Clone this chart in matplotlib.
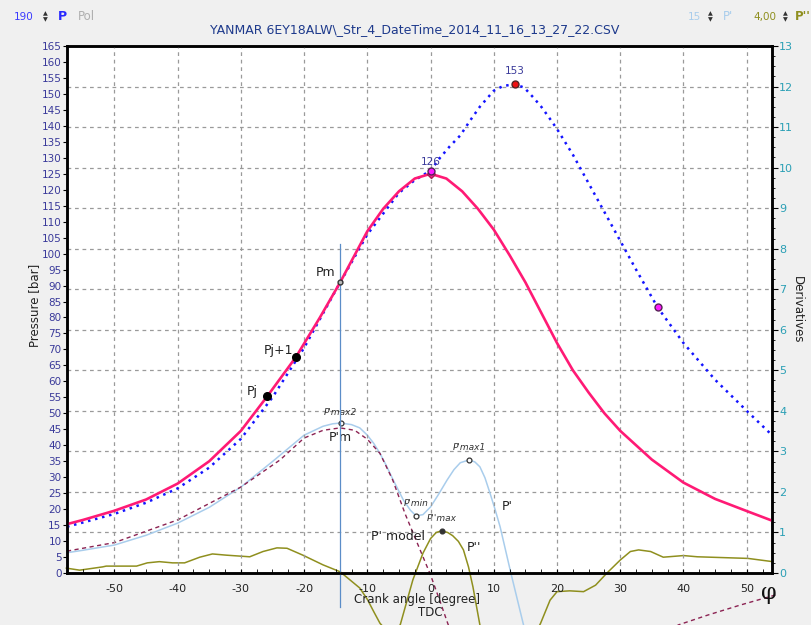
import numpy as np
import matplotlib.pyplot as plt
from matplotlib.ticker import MultipleLocator

# measured cylinder pressure [bar] (blue dotted)
ang_meas = [-57.5, -55, -50, -45, -40, -35, -30, -25, -20, -15, -10, -5, -2.5, 0,
            1.5, 3, 4.7, 6.2, 7.8, 10, 11.5, 13.3, 14.8, 16.2, 17.5, 18.6, 20, 22.5,
            25, 27.5, 30, 32.5, 35.9, 40, 45, 50.2, 54.3]
p_meas = [14.5, 15.8, 18.5, 22, 26.5, 33, 42, 55, 70.5, 88.5, 106, 119, 123, 126,
          130, 133.5, 137, 141.5, 146, 151, 152.5, 153, 152, 149, 146, 143, 139, 131,
          122, 113, 104, 95, 83.2, 72, 60.5, 50.4, 42.6]

# pressure model [bar] (pink)
ang_mod = [-57.5, -55, -50, -45, -40, -35, -30, -25.8, -21.3, -17.5, -14.3, -10, -7.5,
           -5, -2.5, 0, 2.5, 5, 7.5, 10, 12.5, 15, 17.5, 20, 22.5, 25, 27.5, 30, 35,
           40, 45, 50, 54]
p_mod = [15.3, 16.6, 19.5, 23, 28, 35, 44.5, 55.4, 67.6, 80, 91, 107, 114, 119.5, 123.5,
         125, 123.5, 119.5, 114, 107.5, 99.5, 91, 81.5, 72, 63.5, 56.5, 50, 44.5, 35.5,
         28.3, 23.2, 19.4, 16.4]

# first derivative P' (light blue), right axis
ang_d1 = [-57.5, -55, -50, -45, -40, -35, -30, -25, -20, -17, -15.5, -14.2, -12.5,
          -11.2, -10, -9, -8, -7, -5.9, -4.3, -3.2, -2.3, -1.2, 0, 1.3, 2.6, 3.7, 4.7,
          6.1, 7, 7.8, 8.6, 9.4, 10.2, 11, 12.7, 14.7, 17]
d1 = [0.50, 0.56, 0.69, 0.93, 1.23, 1.62, 2.12, 2.75, 3.40, 3.62, 3.68, 3.70, 3.66,
      3.58, 3.40, 3.20, 2.95, 2.65, 2.29, 1.80, 1.55, 1.41, 1.44, 1.63, 1.95, 2.29, 2.55,
      2.72, 2.79, 2.74, 2.62, 2.35, 1.97, 1.57, 1.14, 0.0, -1.28, -2.4]

# P' model (dashed)
ang_d1m = [-57.5, -50, -40, -30, -23.8, -20, -17, -14.3, -12, -10, -8, -6, -4, -2, 0, 1.5,
           2.8, 5, 10, 20, 30, 39.2, 43.8, 49, 54.6]
d1m = [0.54, 0.75, 1.31, 2.12, 2.79, 3.33, 3.52, 3.58, 3.52, 3.30, 2.95, 2.30, 1.45, 0.70,
       -0.05, -0.70, -1.28, -2.0, -2.6, -2.8, -2.2, -1.28, -1.04, -0.79, -0.54]

# second derivative P'' (olive)
ang_d2 = [-57.6, -55.5, -51.9, -51.3, -46.5, -44.8, -42.9, -40.8, -38.9, -36.5, -34.5,
          -32.3, -28.6, -26.5, -24.3, -22.7, -20.2, -17.0, -14.3, -11.2, -10, -9, -8,
          -6.5, -4.8, -2.8, -1.2, 0, 0.9, 1.77, 2.7, 3.5, 4.4, 5.2, 6.0, 6.7, 7.8, 10,
          12.5, 15, 17.4, 18.9, 20, 22, 24.2, 26.1, 27.9, 30, 31.6, 32.9, 34.8, 36.8,
          40, 42.2, 50.2, 54.1]
d2 = [0.12, 0.07, 0.15, 0.17, 0.17, 0.25, 0.28, 0.25, 0.25, 0.39, 0.47,
      0.44, 0.40, 0.53, 0.62, 0.61, 0.44, 0.20, 0.03, -0.37, -0.65, -0.95, -1.24,
      -1.5, -1.28, -0.17, 0.49, 0.85, 1.0, 1.04, 1.0, 0.92, 0.78, 0.57, 0.15, -0.34, -1.28,
      -2.2, -2.5, -2.0, -1.24, -0.67, -0.46, -0.44, -0.46, -0.30, 0.0, 0.32, 0.53, 0.57,
      0.53, 0.39, 0.43, 0.40, 0.36, 0.28]

# characteristic points
pj = (-25.8, 55.4)
pj1 = (-21.3, 67.6)
pm = (-14.3, 91.0)
pmax_meas = (13.3, 153)
p_tdc_meas = (0.0, 126)
p_tdc_mod = (0.0, 125)
p_late = (35.9, 83.2)
d1max2 = (-14.2, 3.70)
d1min = (-2.3, 1.41)
d1max1 = (6.1, 2.79)
d2max = (1.77, 1.04)

title = "YANMAR 6EY18ALW\\_Str_4_DateTime_2014_11_16_13_27_22.CSV"

plt.rcParams['font.family'] = 'DejaVu Sans'
plt.rcParams['axes.unicode_minus'] = False

fig = plt.figure(figsize=(8.12, 6.25), dpi=100, facecolor='#f0f0f0')
W, H = 812, 625
ax = fig.add_axes([67 / W, 1 - 573 / H, (772 - 67) / W, (573 - 46) / H])
ax2 = ax.twinx()
ax.set_zorder(ax2.get_zorder() + 1)
ax.patch.set_visible(False)
ax2.patch.set_visible(True)
ax2.patch.set_facecolor('white')

ax.set_xlim(-57.5, 54)
ax.set_ylim(0, 165)
ax2.set_ylim(0, 13)

grid_kw = dict(color='#9a9a9a', linestyle=(0, (3, 3)), linewidth=0.9)
ax.xaxis.grid(True, **grid_kw)
ax2.yaxis.grid(True, **grid_kw)
ax.set_axisbelow(True)

ax.xaxis.set_major_locator(MultipleLocator(10))
ax.xaxis.set_minor_locator(MultipleLocator(2.5))
ax.yaxis.set_major_locator(MultipleLocator(5))
ax2.yaxis.set_major_locator(MultipleLocator(1))
ax2.yaxis.set_minor_locator(MultipleLocator(0.25))

ax.tick_params(axis='x', which='both', direction='in', length=3, labelsize=8,
               pad=8, labelcolor='#222222')
ax.tick_params(axis='y', direction='out', length=3, labelsize=7.5, pad=1,
               labelcolor='#3a3a9a')
ax2.tick_params(axis='y', which='major', direction='out', length=4, labelsize=8,
                pad=1, labelcolor='#2a9fb5')
ax2.tick_params(axis='y', which='minor', direction='out', length=2)
for a in (ax, ax2):
    for s in a.spines.values():
        s.set_linewidth(1.8)
        s.set_color('black')

# derivatives (right axis), not clipped like in the original software
ax2.plot(ang_d1, d1, color='#a9cdec', lw=1.1, clip_on=False)
ax2.plot(ang_d1m, d1m, color='#8b2252', lw=1.0, linestyle=(0, (3, 2.5)), clip_on=False)
ax2.plot(ang_d2, d2, color='#8f8f1e', lw=1.1, clip_on=False)

# vertical line at P'max2
ax.plot([pm[0], pm[0]], [-10.5, 103], color='#5b8dc8', lw=0.9, clip_on=False)

# pressure curves (left axis)
ax.plot(ang_meas, p_meas, color='#1414ff', lw=1.8, linestyle=(0, (1, 1.9)))
ax.plot(ang_mod, p_mod, color='#ff1a75', lw=1.9)

# markers
ax.plot(*pj, 'o', color='black', ms=5.5)
ax.plot(*pj1, 'o', color='black', ms=5.5)
ax.plot(*pm, 'o', mfc='#bbbbbb', mec='#333333', ms=3.5)
ax.plot(*p_tdc_mod, 'D', mfc='#ff1a9a', mec='#aa2255', ms=4)
ax.plot(*p_tdc_meas, 'o', mfc='#ff1aff', mec='#552255', ms=5)
ax.plot(*pmax_meas, 'o', mfc='#ee1111', mec='#552222', ms=5)
ax.plot(*p_late, 'o', mfc='#ff1aff', mec='#552255', ms=5)
for pt, fc in ((d1max2, 'white'), (d1min, 'white'), (d1max1, 'white'), (d2max, '#333333')):
    ax2.plot(*pt, 'o', mfc=fc, mec='#333333', ms=3.5, mew=0.9)

lbl = dict(textcoords='offset pixels', ha='center', va='center')
ax.annotate('Pj', pj, xytext=(-15, 5), fontsize=9, color='#222222', **lbl)
ax.annotate('Pj+1', pj1, xytext=(-17, 7), fontsize=9, color='#222222', **lbl)
ax.annotate('Pm', pm, xytext=(-15, 10), fontsize=9, color='#222222', **lbl)
ax.annotate('126', p_tdc_meas, xytext=(0, 9), fontsize=7.5, color='#3a3a9a', **lbl)
ax.annotate('153', pmax_meas, xytext=(0, 13), fontsize=7.5, color='#3a3a9a', **lbl)
sm = dict(fontsize=6.5, style='italic', color='#333333')
ax2.annotate("P'max2", d1max2, xytext=(0, 11), **sm, **lbl)
ax2.annotate("P'm", d1max2, xytext=(0, -14), fontsize=9, color='#222222', **lbl)
ax2.annotate("P'min", d1min, xytext=(0, 12), **sm, **lbl)
ax2.annotate("P''max", d2max, xytext=(0, 12), **sm, **lbl)
ax2.annotate("P'max1", d1max1, xytext=(0, 12), **sm, **lbl)
ax2.text(-5.1, 0.89, "P' model", fontsize=9, color='#222222', ha='center', va='center')
ax2.text(12.2, 1.63, "P'", fontsize=9, color='#222222', ha='center', va='center')
ax2.text(6.9, 0.62, "P''", fontsize=9, color='#222222', ha='center', va='center')

# axis titles
fig.text(35 / W, 1 - 305 / H, 'Pressure [bar]', rotation=90, ha='center', va='center',
         fontsize=8.5, color='#222222')
fig.text(797 / W, 1 - 310 / H, 'Derivatives', rotation=270, ha='center', va='center',
         fontsize=8.5, color='#222222')
fig.text(417 / W, 1 - 600 / H, 'Crank angle [degree]', ha='center', va='center',
         fontsize=8.5, color='#222222')
fig.text(430 / W, 1 - 613 / H, 'TDC', ha='center', va='center', fontsize=8.5,
         color='#222222')
fig.text(769 / W, 1 - 593 / H, 'φ', ha='center', va='center', fontsize=16,
         family='DejaVu Serif', color='#111111')

# header
fig.text(415 / W, 1 - 30 / H, title, ha='center', va='center', fontsize=9,
         color='#1e3a8c')
fig.text(24 / W, 1 - 17 / H, '190', ha='center', va='center', fontsize=7.5, color='#3a3aff')
fig.text(62 / W, 1 - 17 / H, 'P', ha='center', va='center', fontsize=9,
         fontweight='bold', color='#2a2aff')
fig.text(86 / W, 1 - 17 / H, 'Pol', ha='center', va='center', fontsize=8.5, color='#b0b0b0')
fig.text(694 / W, 1 - 17 / H, '15', ha='center', va='center', fontsize=7.5, color='#a9cdec')
fig.text(728 / W, 1 - 17 / H, "P'", ha='center', va='center', fontsize=8.5, color='#a9cdec')
fig.text(765 / W, 1 - 17 / H, '4,00', ha='center', va='center', fontsize=7.5, color='#8f8f1e')
fig.text(803 / W, 1 - 17 / H, "P''", ha='center', va='center', fontsize=8.5,
         fontweight='bold', color='#8f8f1e')
for xp in (45, 710, 785):
    fig.text(xp / W, 1 - 14 / H, '▲', ha='center', va='center', fontsize=4.5, color='#333333')
    fig.text(xp / W, 1 - 20 / H, '▼', ha='center', va='center', fontsize=4.5, color='#333333')

fig.savefig('out.png', dpi=100, facecolor=fig.get_facecolor())
